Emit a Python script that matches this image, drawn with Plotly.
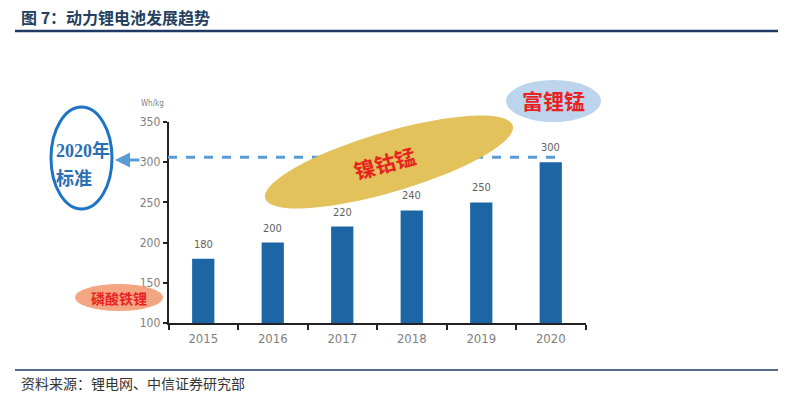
import numpy as np
import plotly.graph_objects as go

# ---- data ----
years = ["2015", "2016", "2017", "2018", "2019", "2020"]
energy_density = [180, 200, 220, 240, 250, 300]
y_ticks = [100, 150, 200, 250, 300, 350]
target_2020 = 300
title_text = "图 7：动力锂电池发展趋势"
source_text = "资料来源：锂电网、中信证券研究部"
unit_text = "Wh/kg"

W, H = 791, 396


def px(x):
    return x / W


def py(y):
    return 1 - y / H


def ellipse_path(cx, cy, a, b, deg, n=90):
    t = np.radians(deg)
    pts = []
    for k in range(n):
        phi = 2 * np.pi * k / n
        x = cx + a * np.cos(t) * np.cos(phi) - b * np.sin(t) * np.sin(phi)
        y = cy + a * np.sin(t) * np.cos(phi) + b * np.cos(t) * np.sin(phi)
        pts.append(f"{px(x):.5f},{py(y):.5f}")
    return "M " + " L ".join(pts) + " Z"


TICK_FONT = "Liberation Sans Narrow, DejaVu Sans Condensed, Arial Narrow, sans-serif"
CJK = "Noto Sans CJK SC, sans-serif"

fig = go.Figure()
fig.add_trace(go.Bar(
    x=years, y=energy_density, marker_color="#1c66a6", marker_line_width=0,
    width=0.32, hoverinfo="skip", showlegend=False,
))

annotations = []
for i, v in enumerate(energy_density):
    annotations.append(dict(
        x=i, y=v, xref="x", yref="y", text=str(v), showarrow=False,
        xanchor="center", yanchor="bottom", yshift=6,
        font=dict(family=TICK_FONT, size=11, color="#5f5f5f"),
    ))


def note(x, y, text, font, xanchor="center", **kw):
    return dict(x=px(x), y=py(y), xref="paper", yref="paper", xanchor=xanchor,
                yanchor="middle", text=text, showarrow=False, font=font, **kw)


annotations += [
    note(19, 17, "<b>" + title_text + "</b>", dict(family=CJK, size=16, color="#243f60"), "left"),
    note(19, 383, source_text, dict(family=CJK, size=14, color="#333333"), "left"),
    note(166, 103, unit_text, dict(family=TICK_FONT, size=8, color="#7f7f7f"), "right"),
    note(54, 150, "<b>2020年</b>", dict(family="Liberation Serif, " + CJK, size=18, color="#2a6fb4"), "left"),
    note(54, 177, "<b>标准</b>", dict(family=CJK, size=18, color="#2a6fb4"), "left"),
    note(119, 298, "<b>磷酸铁锂</b>", dict(family=CJK, size=14, color="#e8231f")),
    note(384, 163, "<b>镍钴锰</b>", dict(family=CJK, size=21, color="#e8231f"), textangle=-15),
    note(553, 100, "<b>富锂锰</b>", dict(family=CJK, size=21, color="#e8231f")),
    # arrow
    dict(x=px(115), y=py(160), xref="paper", yref="paper", ax=26, ay=0, text="",
         showarrow=True, arrowhead=2, arrowsize=1, arrowwidth=3, arrowcolor="#5b9bd5"),
]

shapes = [
    # header / footer rules
    dict(type="line", xref="paper", yref="paper", x0=px(15), x1=px(778), y0=py(31), y1=py(31),
         line=dict(color="#1f3864", width=2.5)),
    dict(type="line", xref="paper", yref="paper", x0=px(15), x1=px(778), y0=py(370), y1=py(370),
         line=dict(color="#1f3864", width=1.5)),
    # 2020 target dashed line
    dict(type="line", xref="paper", yref="y", ysizemode="pixel", yanchor=target_2020,
         x0=px(168), x1=px(562), y0=5, y1=5,
         line=dict(color="#5b9bd5", width=3, dash="dash")),
    # gold ellipse (rotated)
    dict(type="path", xref="paper", yref="paper", path=ellipse_path(389, 162, 129, 30, -16.4),
         fillcolor="#e3c15b", line=dict(width=0)),
    # light blue ellipse
    dict(type="circle", xref="paper", yref="paper", x0=px(506), x1=px(601), y0=py(122), y1=py(80),
         fillcolor="#bcd5ed", line=dict(width=0)),
    # orange ellipse
    dict(type="circle", xref="paper", yref="paper", x0=px(75), x1=px(163), y0=py(311), y1=py(284),
         fillcolor="#f4a582", line=dict(width=0)),
    # blue outline ellipse
    dict(type="circle", xref="paper", yref="paper", x0=px(51), x1=px(112), y0=py(209), y1=py(107),
         line=dict(color="#1e74c4", width=3)),
]

fig.update_layout(
    width=W, height=H, autosize=False,
    margin=dict(l=0, r=0, t=0, b=0, pad=0, autoexpand=False),
    paper_bgcolor="white", plot_bgcolor="white",
    showlegend=False,
    annotations=annotations,
    shapes=shapes,
    xaxis=dict(
        type="category", domain=[px(168.5), px(585.5)], range=[-0.5, 5.5],
        showline=True, linecolor="#222222", linewidth=1.5, automargin=False,
        ticks="outside", tickson="boundaries", ticklen=5, tickcolor="#222222", tickwidth=1.5,
        ticklabelstandoff=3,
        showgrid=False, zeroline=False,
        tickfont=dict(family=TICK_FONT, size=13, color="#808080"),
    ),
    yaxis=dict(
        domain=[py(323), py(122)], range=[100, 350], automargin=False,
        tickvals=y_ticks,
        showline=True, linecolor="#222222", linewidth=1.5,
        ticks="outside", ticklen=4, tickcolor="#222222", tickwidth=1.5,
        showgrid=False, zeroline=False,
        tickfont=dict(family=TICK_FONT, size=12, color="#808080"),
    ),
)

fig.write_html(
    "out.html",
    config={"responsive": False, "displayModeBar": False},
    post_script="document.body.style.margin='0';document.body.style.overflow='hidden';",
)
